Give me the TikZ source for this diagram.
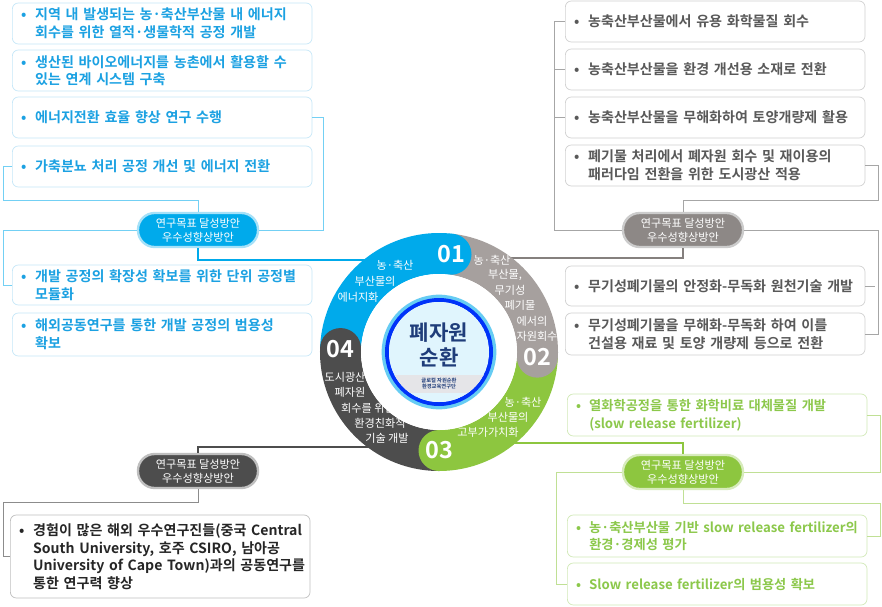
\documentclass[tikz,border=0pt]{standalone}
\usepackage{fontspec}
\setmainfont{Noto Sans CJK KR}[BoldFont={Noto Sans CJK KR Bold}]
\usepackage{tikz}
\definecolor{ringblue}{RGB}{0,170,235}
\definecolor{ringgray}{RGB}{166,160,158}
\definecolor{ringgreen}{RGB}{141,198,63}
\definecolor{ringdark}{RGB}{77,77,77}
\definecolor{txtblue}{RGB}{27,161,226}
\definecolor{txtgray}{RGB}{89,89,89}
\definecolor{txtgreen}{RGB}{140,200,75}
\definecolor{txtdark}{RGB}{38,38,38}
\definecolor{navy}{RGB}{31,61,122}
\newcommand\itm[1]{\makebox[1.1em][l]{\hspace{0.1em}•}\parbox[t]{8.2cm}{\raggedright\hyphenpenalty=10000 #1}}

\begin{document}
\begin{tikzpicture}[x=0.03cm,y=-0.03cm]
        \tikzstyle{box}=[rectangle, rounded corners=0.18cm, fill=white, line width=0.6pt,
          anchor=west, text width=8.55cm, align=left, inner xsep=0.22cm,
          font=\fontsize{12}{15}\selectfont\bfseries]
        \tikzstyle{bbox}=[box, draw=txtblue!25, text=txtblue]
        \tikzstyle{gbox}=[box, draw=black!18, text=txtgray]
        \tikzstyle{grbox}=[box, draw=txtgreen!40, text=txtgreen, font=\fontsize{11.3}{15}\selectfont\bfseries]
        \tikzstyle{dbox}=[box, draw=black!25, text=txtdark]
        \tikzstyle{pill}=[rectangle, rounded corners=0.5cm, minimum width=3.6cm, minimum height=1.02cm,
          text=white, align=center, font=\fontsize{9.5}{12}\selectfont, line width=2pt]
        \tikzstyle{thin}=[line width=0.7pt]
        \tikzstyle{thick}=[line width=2pt]
        \tikzstyle{segtxt}=[text=white, font=\fontsize{9.5}{11}\selectfont, inner sep=0pt]
        \tikzstyle{num}=[text=white, font=\fontsize{20}{20}\selectfont\bfseries, inner sep=0pt]
        \useasboundingbox (0,0) rectangle (882,606);
        \fill[white] (0,0) rectangle (882,606);

        % left, blue
        \node[bbox, minimum height=1.23cm] (l1) at (12,23.5) {\itm{지역 내 발생되는 농·축산부산물 내 에너지\\회수를 위한 열적·생물학적 공정 개발}};
        \node[bbox, minimum height=1.23cm] (l2) at (12,70.5) {\itm{생산된 바이오에너지를 농촌에서 활용할 수\\있는 연계 시스템 구축}};
        \node[bbox, minimum height=1.23cm] (l3) at (12,117.5) {\itm{에너지전환 효율 향상 연구 수행}};
        \node[bbox, minimum height=1.23cm] (l4) at (12,166.5) {\itm{가축분뇨 처리 공정 개선 및 에너지 전환}};
        \node[bbox, minimum height=1.2cm] (l5) at (12,285) {\itm{개발 공정의 확장성 확보를 위한 단위 공정별\\모듈화}};
        \node[bbox, minimum height=1.29cm] (l6) at (12,334.5) {\itm{해외공동연구를 통한 개발 공정의 범용성\\확보}};
        \node[pill, fill=ringblue, draw=ringblue!35] (bp) at (198,230) {연구목표 달성방안\\우수성향상방안};
        \coordinate (b-in) at (400,260);
        \draw[thin, ringblue!55] (l4.west) -| (3,200) -| (bp.north);
        \draw[thin, ringblue!55] (l3.east) -- ++(11,0) |- (bp.east);
        \draw[thin, ringblue!55] (bp.west) -| (3,285) -- (l5.west);
        \draw[thick, ringblue] (bp.south) |- (b-in);

        % right, gray
        \node[gbox, minimum height=1.23cm] (r1) at (565,21.5) {\itm{농축산부산물에서 유용 화학물질 회수}};
        \node[gbox, minimum height=1.23cm] (r2) at (565,69.5) {\itm{농축산부산물을 환경 개선용 소재로 전환}};
        \node[gbox, minimum height=1.23cm] (r3) at (565,117.5) {\itm{농축산부산물을 무해화하여 토양개량제 활용}};
        \node[gbox, minimum height=1.23cm] (r4) at (565,165.5) {\itm{폐기물 처리에서 폐자원 회수 및 재이용의\\패러다임 전환을 위한 도시광산 적용}};
        \node[gbox, minimum height=1.2cm] (r5) at (565,286) {\itm{무기성폐기물의 안정화-무독화 원천기술 개발}};
        \node[gbox, minimum height=1.26cm] (r6) at (565,334) {\itm{무기성폐기물을 무해화-무독화 하여 이를\\건설용 재료 및 토양 개량제 등으로 전환}};
        \node[pill, fill=ringgray!85!black, draw=black!20] (gp) at (683,230) {연구목표 달성방안\\우수성향상방안};
        \coordinate (g-in) at (480,258);
        \draw[thin, black!35] (r1.west) -| (554,230) -- (gp.west);
        \draw[thin, black!35] (r2.west) -- ++(-11,0);
        \draw[thin, black!35] (r3.west) -- ++(-11,0);
        \draw[thin, black!35] (r4.east) -| (878,200) -| (gp.north);
        \draw[thin, black!35] (gp.east) -| (878,334) -- (r6.east);
        \draw[thin, black!35] (r5.east) -- ++(10,0);
        \draw[thick, ringgray!80!black] (gp.south) |- (g-in);

        % right, green
        \node[grbox, minimum height=1.26cm] (gr1) at (567,415) {\itm{열화학공정을 통한 화학비료 대체물질 개발\\(slow release fertilizer)}};
        \node[grbox, minimum height=1.26cm] (gr2) at (567,536) {\itm{농·축산부산물 기반 slow release fertilizer의\\환경·경제성 평가}};
        \node[grbox, minimum height=1.26cm] (gr3) at (567,584) {\itm{Slow release fertilizer의 범용성 확보}};
        \node[pill, fill=ringgreen, draw=ringgreen!35] (grp) at (683,472) {연구목표 달성방안\\우수성향상방안};
        \coordinate (gr-in) at (480,443);
        \draw[thin, ringgreen!55] (grp.east) -| (880,415) -- (gr1.east);
        \draw[thin, ringgreen!55] (grp.south) -- ++(0,13) -| (880,536) -- (gr2.east);
        \draw[thin, ringgreen!55] (grp.west) -| (556,584) -- (gr3.west);
        \draw[thick, ringgreen] (gr-in) -| (grp.north);

        % left, dark
        \node[dbox, minimum height=2.49cm] (db) at (10,556.5) {\itm{경험이 많은 해외 우수연구진들(중국 Central\\South University, 호주 CSIRO, 남아공\\University of Cape Town)과의 공동연구를\\통한 연구력 향상}};
        \node[pill, fill=ringdark, draw=black!25] (dp) at (198,471) {연구목표 달성방안\\우수성향상방안};
        \coordinate (d-in) at (400,447);
        \draw[thin, black!45] (dp.south) -- ++(0,13) -| (3,556.5) -- (db.west);
        \draw[thick, ringdark] (d-in) -| (dp.north);

        % ring
        \begin{scope}[shift={(439,352)}]
          \fill[ringblue] (83:3.57cm) arc[start angle=83, end angle=178, radius=3.57cm] -- (178:2.34cm) arc[start angle=178, end angle=83, radius=2.34cm] -- cycle;
          \fill[ringgray] (-3:3.57cm) arc[start angle=-3, end angle=83, radius=3.57cm] -- (83:2.34cm) arc[start angle=83, end angle=-3, radius=2.34cm] -- cycle;
          \fill[ringgreen] (-90:3.57cm) arc[start angle=-90, end angle=-3, radius=3.57cm] -- (-3:2.34cm) arc[start angle=-3, end angle=-90, radius=2.34cm] -- cycle;
          \fill[ringdark] (178:3.57cm) arc[start angle=178, end angle=270, radius=3.57cm] -- (270:2.34cm) arc[start angle=270, end angle=178, radius=2.34cm] -- cycle;
          \fill[ringblue] (83:2.955cm) circle (0.615cm);
          \fill[ringgray] (-3:2.955cm) circle (0.615cm);
          \fill[ringgreen] (-90:2.955cm) circle (0.615cm);
          \fill[ringdark] (178:2.955cm) circle (0.615cm);
          \fill[white] (0,0) circle (2.34cm);
          \fill[ringblue!60] (0,0) circle (1.72cm);
          \fill[blue!70!ringblue] (0,0) circle (1.62cm);
          \fill[white] (0,0) circle (1.5cm);
          \begin{scope}
            \clip (0,0) circle (1.5cm);
            \fill[ringblue!12] (0,0) circle (1.5cm);
            \fill[blue!8!black!10] (-2cm,-0.68cm) rectangle (2cm,-1.22cm);
          \end{scope}
          \node[text=navy, align=center, font=\fontsize{18}{21}\selectfont\bfseries] (title) at (0cm,0.22cm) {폐자원\\순환};
          \node[text=navy, align=center, font=\fontsize{4.5}{5.5}\selectfont\bfseries] (sub) at (0cm,-0.95cm) {글로컬 자원순환\\환경교육연구단};
          \node[num] (n1) at (83:2.955cm) {01};
          \node[num] (n2) at (-3:2.955cm) {02};
          \node[num] (n3) at (-90:2.955cm) {03};
          \node[num] (n4) at (178:2.955cm) {04};
        \end{scope}

        \foreach \t/\x/\y [count=\i] in {농·축산/395/265, 부산물의/375/281, 에너지화/358/297}
          \node[segtxt] (sb\i) at (\x,\y) {\t};
        \foreach \t/\x/\y [count=\i] in {농·축산/492/260, {부산물,}/505/275, 무기성/510/290, 폐기물/520/305, 에서의/532/321, 자원회수/537/336}
          \node[segtxt] (sg\i) at (\x,\y) {\t};
        \foreach \t/\x/\y [count=\i] in {농·축산/523/402, 부산물의/508/417, 고부가가치화/488/432}
          \node[segtxt] (sgr\i) at (\x,\y) {\t};
        \foreach \t/\x/\y [count=\i] in {도시광산/345/377, 폐자원/350/392, 회수를 위한/368/408, 환경친화적/380/423, 기술 개발/387/438}
          \node[segtxt] (sd\i) at (\x,\y) {\t};
      \end{tikzpicture}
\end{document}
